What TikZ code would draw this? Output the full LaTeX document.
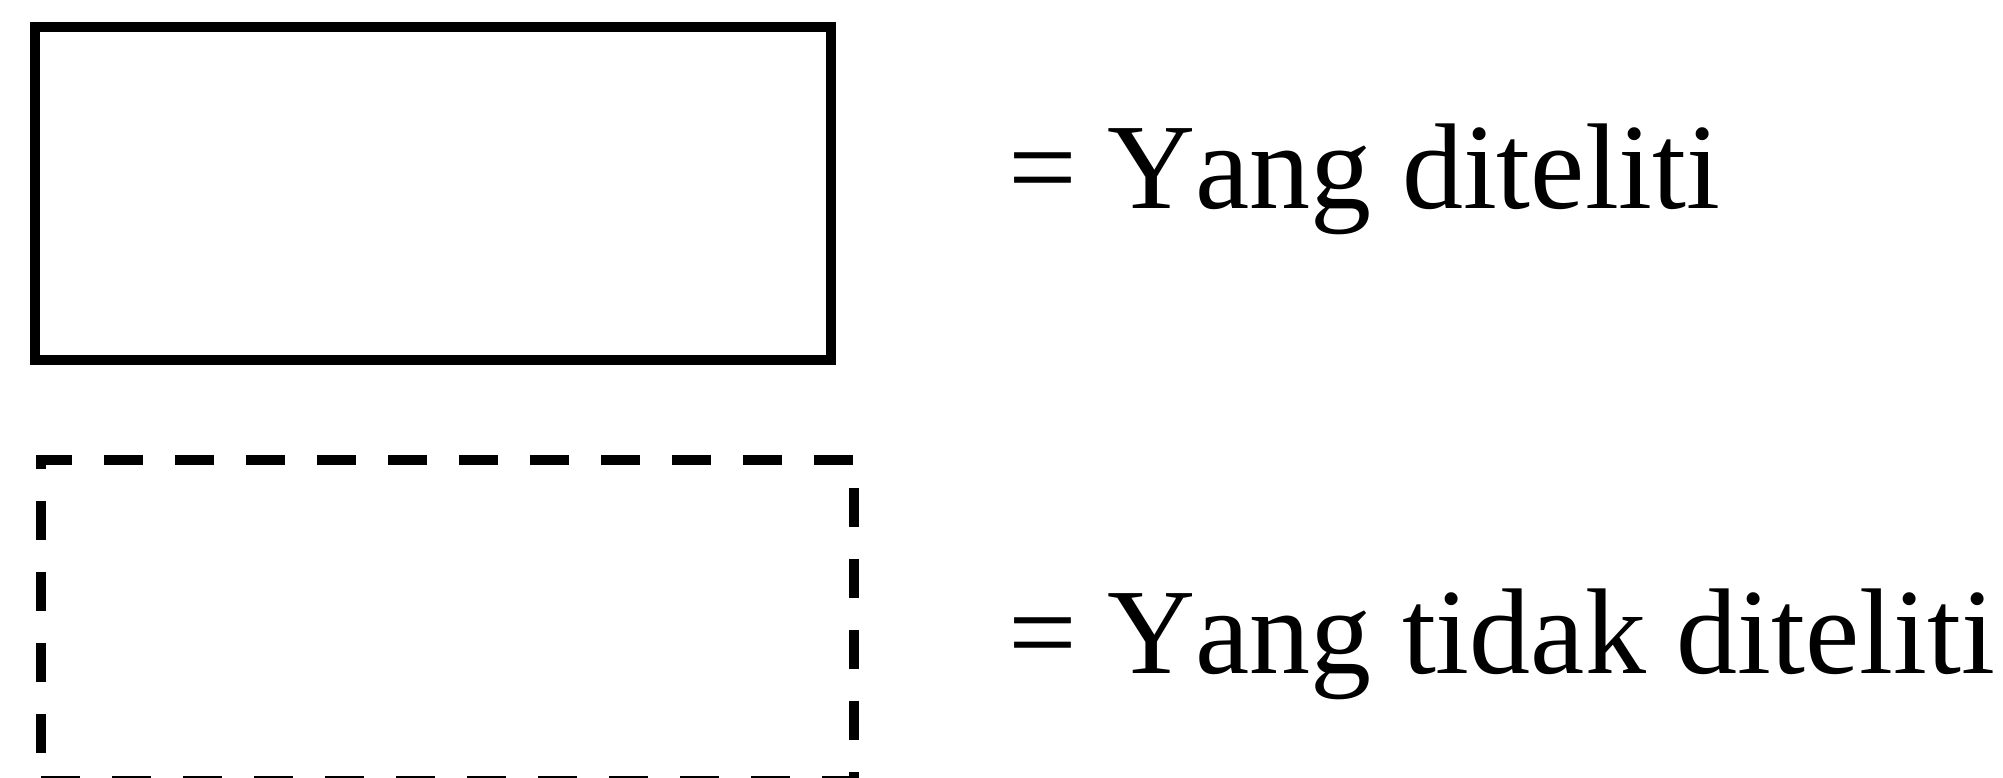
\documentclass[tikz,border=0pt]{standalone}
\usepackage{fontspec}
\setmainfont{Liberation Serif}[Kerning=Off]
\begin{document}
\begin{tikzpicture}[x=0.5pt,y=-0.5pt,
  lbl/.style={anchor=base west, inner sep=0pt, outer sep=0pt, font=\fontsize{61}{70}\selectfont},
  solidbox/.style={draw, line width=5pt, inner sep=0pt, outer sep=0pt, minimum width=398pt, minimum height=166.5pt},
  dashframe/.style={inner sep=0pt, outer sep=0pt, minimum width=406.5pt, minimum height=160.5pt},
  dashside/.style={line width=5pt, dash pattern=on 19.5pt off 16pt}]
\useasboundingbox (0,0) rectangle (2003,777);
\clip (0,0) rectangle (2003,777);
\fill[white] (0,0) rectangle (2003,777);
% solid box
\node[solidbox] (sbox) at (433,193.5) {};
% dashed box
\node[dashframe] (dbox) at (447.5,620.5) {};
\draw[dashside, dash phase=1.5pt] ([xshift=-2.5pt]dbox.north west) -- (dbox.north east);
\draw[dashside, dash phase=21.5pt] (dbox.north east) -- (dbox.south east);
\draw[dashside, dash phase=3.5pt] (dbox.south east) -- (dbox.south west);
\draw[dashside, dash phase=21.5pt] (dbox.south west) -- (dbox.north west);
% labels
\node[lbl] (l1) at (1008,208) {= Yang diteliti};
\node[lbl] (l2) at (1008,673) {= Yang tidak diteliti};
\end{tikzpicture}
\end{document}
